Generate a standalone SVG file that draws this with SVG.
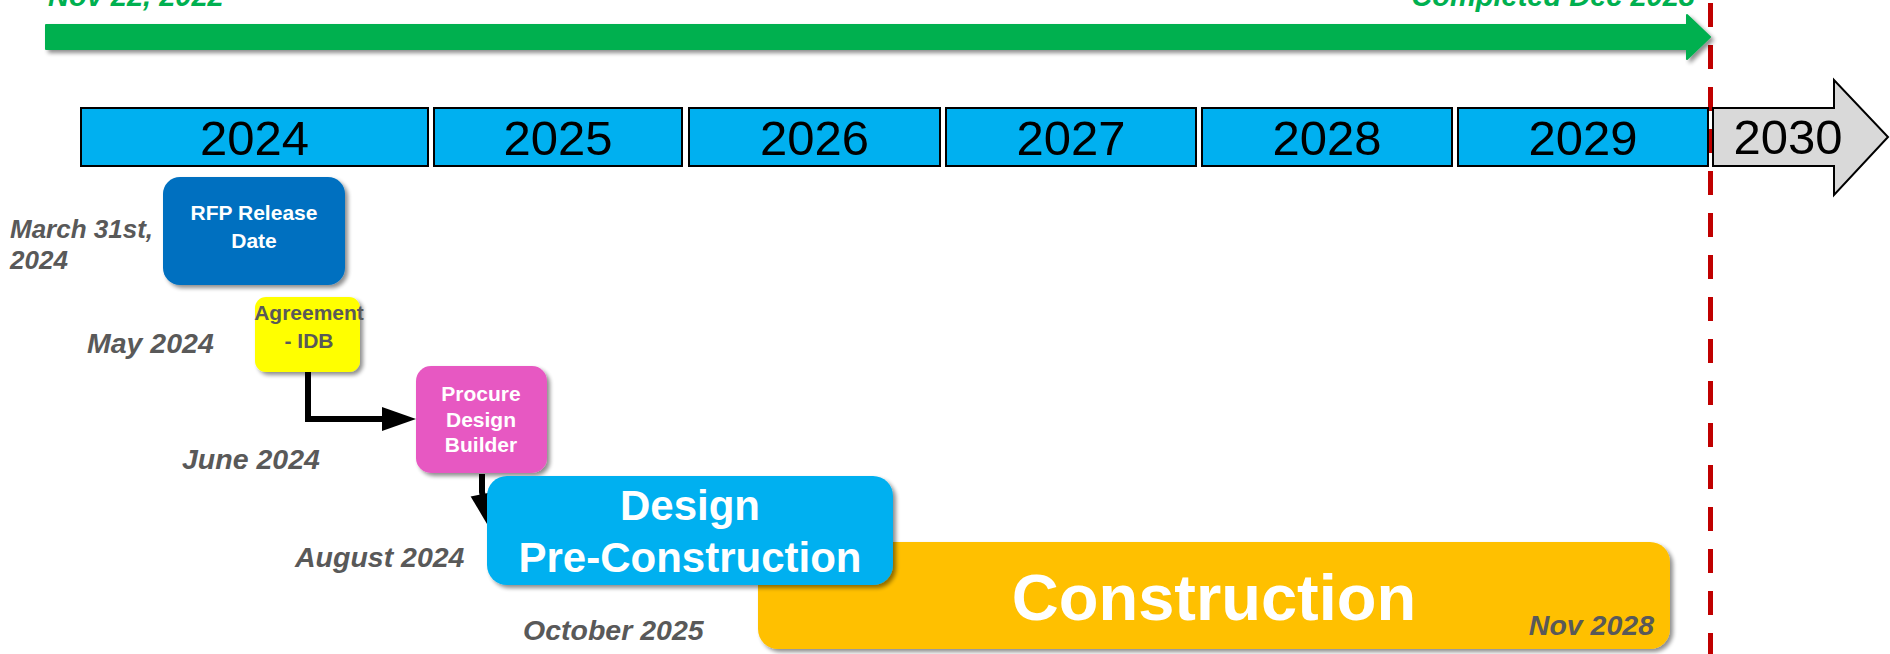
<svg xmlns="http://www.w3.org/2000/svg" width="1890" height="654" viewBox="0 0 1890 654">
<style>
  text { font-family: "Liberation Sans", Arial, sans-serif; }
  .year { fill: #00B0F0; stroke: #000; stroke-width: 2; }
  .yt { font-size: 49px; fill: #000; text-anchor: middle; }
  .lbl { font-size: 28.5px; font-weight: bold; font-style: italic; fill: #595959; }
  .green { font-size: 29px; font-weight: bold; font-style: italic; fill: #00B050; }
  .nt { font-weight: bold; text-anchor: middle; fill: #fff; }
  .conn { fill: none; stroke: #000; stroke-width: 6; }
</style>
<defs>
  <filter id="sh" x="-10%" y="-10%" width="130%" height="140%">
    <feGaussianBlur in="SourceAlpha" stdDeviation="2"/>
    <feOffset dx="3" dy="3" result="o"/>
    <feComponentTransfer><feFuncA type="linear" slope="0.45"/></feComponentTransfer>
    <feMerge><feMergeNode/><feMergeNode in="SourceGraphic"/></feMerge>
  </filter>
  <marker id="ah" markerUnits="userSpaceOnUse" markerWidth="34" markerHeight="24" refX="2" refY="12" orient="auto" overflow="visible">
    <path d="M0,0 L34,12 L0,24 z" fill="#000"/>
  </marker>
</defs>

<g id="completion-line">
  <line x1="1710.5" y1="3" x2="1710.5" y2="654" stroke="#C00000" stroke-width="5" stroke-dasharray="24 18"/>
</g>

<g id="overall-arrow">
  <polygon points="46,25 1687,25 1687,15 1710,37 1687,59 1687,49 46,49" fill="#00B050" stroke="#00B050" stroke-width="2" stroke-linejoin="round" filter="url(#sh)"/>
  <text class="green" x="48" y="6">Nov 22, 2022</text>
  <text class="green" x="1695" y="6" text-anchor="end">Completed Dec 2028</text>
</g>

<g id="years">
  <rect class="year" x="81" y="108" width="347" height="58"/>
  <text class="yt" x="254.5" y="155">2024</text>
  <rect class="year" x="434" y="108" width="248" height="58"/>
  <text class="yt" x="558" y="155">2025</text>
  <rect class="year" x="689" y="108" width="251" height="58"/>
  <text class="yt" x="814.5" y="155">2026</text>
  <rect class="year" x="946" y="108" width="250" height="58"/>
  <text class="yt" x="1071" y="155">2027</text>
  <rect class="year" x="1202" y="108" width="250" height="58"/>
  <text class="yt" x="1327" y="155">2028</text>
  <rect class="year" x="1458" y="108" width="250" height="58"/>
  <text class="yt" x="1583" y="155">2029</text>
  <polygon points="1713,108 1834,108 1834,80 1888,137 1834,195 1834,166 1713,166" fill="#D9D9D9" stroke="#000" stroke-width="2" stroke-linejoin="miter"/>
  <text class="yt" x="1788" y="154">2030</text>
</g>

<g id="date-labels">
  <text class="lbl" x="10" y="238" style="font-size:26px">March 31st,</text>
  <text class="lbl" x="10" y="269" style="font-size:26px">2024</text>
  <text class="lbl" x="87" y="353">May 2024</text>
  <text class="lbl" x="182" y="469">June 2024</text>
  <text class="lbl" x="295" y="567">August 2024</text>
  <text class="lbl" x="523" y="640">October 2025</text>
</g>

<g id="connectors">
  <path class="conn" d="M308 372 V419 H384" marker-end="url(#ah)"/>
  <path class="conn" d="M482 474 V492 L482.8 496" marker-end="url(#ah)"/>
</g>

<g id="rfp-release">
  <rect x="163" y="177" width="182" height="108" rx="17" fill="#0070C0" filter="url(#sh)"/>
  <text class="nt" x="254" y="220" font-size="21">RFP Release</text>
  <text class="nt" x="254" y="248" font-size="21">Date</text>
</g>

<g id="agreement-idb">
  <rect x="255" y="297" width="105" height="75" rx="11" fill="#FFFF00" filter="url(#sh)"/>
  <text class="nt" x="309" y="320" font-size="21" style="fill:#595959">Agreement</text>
  <text class="nt" x="309" y="348" font-size="21" style="fill:#595959">- IDB</text>
</g>

<g id="procure-design-builder">
  <rect x="416" y="366" width="131" height="107" rx="15" fill="#E759C2" filter="url(#sh)"/>
  <text class="nt" x="481" y="401" font-size="21">Procure</text>
  <text class="nt" x="481" y="427" font-size="21">Design</text>
  <text class="nt" x="481" y="452" font-size="21">Builder</text>
</g>

<g id="construction">
  <rect x="758" y="542" width="912" height="107" rx="20" fill="#FFC000" filter="url(#sh)"/>
  <text class="nt" x="1214" y="620" font-size="65">Construction</text>
  <text class="lbl" x="1654" y="635" text-anchor="end">Nov 2028</text>
</g>

<g id="design-preconstruction">
  <rect x="487" y="476" width="406" height="109" rx="20" fill="#00B0F0" filter="url(#sh)"/>
  <text class="nt" x="690" y="520" font-size="42">Design</text>
  <text class="nt" x="690" y="572" font-size="42">Pre-Construction</text>
</g>
</svg>
